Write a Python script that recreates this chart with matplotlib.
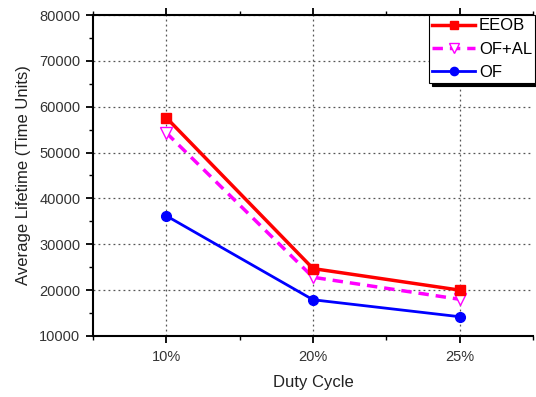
import numpy as np
import matplotlib.pyplot as plt
from matplotlib.ticker import MultipleLocator

plt.rcParams['font.family'] = ['Liberation Sans', 'DejaVu Sans']

# data
duty_cycles = ['10%', '20%', '25%']
eeob = [57600, 24700, 20000]
of_al = [54300, 22800, 18000]
of = [36200, 17900, 14200]

x = np.arange(1, len(duty_cycles) + 1)

fig = plt.figure(figsize=(5.36, 3.97), dpi=100)
ax = fig.add_axes([0.1735, 0.1537, 0.821, 0.8085])

ax.plot(x, eeob, color='#ff0000', lw=2.5, marker='s', ms=7, label='EEOB', zorder=4)
ax.plot(x, of_al, color='#ff00ff', lw=2.5, ls=(0, (3, 2)), marker='v', ms=8,
        mfc='white', mec='#ff00ff', mew=1.0, label='OF+AL', zorder=3)
ax.plot(x, of, color='#0000ff', lw=2.0, marker='o', ms=7, label='OF', zorder=3)

ax.set_xlim(0.5, 3.5)
ax.set_ylim(10000, 80000)
ax.set_xticks(x)
ax.set_xticklabels(duty_cycles)
ax.xaxis.set_minor_locator(MultipleLocator(0.5))
ax.yaxis.set_major_locator(MultipleLocator(10000))
ax.yaxis.set_minor_locator(MultipleLocator(5000))
ax.tick_params(axis='both', which='major', labelsize=10.5, length=5, width=1.3,
               labelcolor='#333333', pad=4)
ax.tick_params(axis='both', which='minor', length=3, width=1.0)
ax.tick_params(axis='x', which='major', pad=5)
ax.tick_params(axis='x', which='both', top=True)

for s in ['left', 'bottom', 'top']:
    ax.spines[s].set_linewidth(1.5)
ax.spines['right'].set_visible(False)

ax.grid(True, which='major', color='#555555', ls=(0, (1.5, 2.5)), lw=0.9)

ax.set_xlabel('Duty Cycle', fontsize=12, labelpad=8, color='#222222')
ax.set_ylabel('Average Lifetime (Time Units)', fontsize=12, labelpad=6, color='#222222')

leg = ax.legend(loc='upper left', bbox_to_anchor=(0.763, 1.0), fontsize=12,
                frameon=True, fancybox=False,
                shadow={'color': 'black', 'alpha': 1.0}, borderpad=0.2,
                labelspacing=0.5, handlelength=2.6, handletextpad=0.2,
                borderaxespad=0.0, markerscale=0.85)
leg.get_frame().set_edgecolor('black')
leg.get_frame().set_linewidth(0.8)

fig.savefig('out.png', dpi=100)
